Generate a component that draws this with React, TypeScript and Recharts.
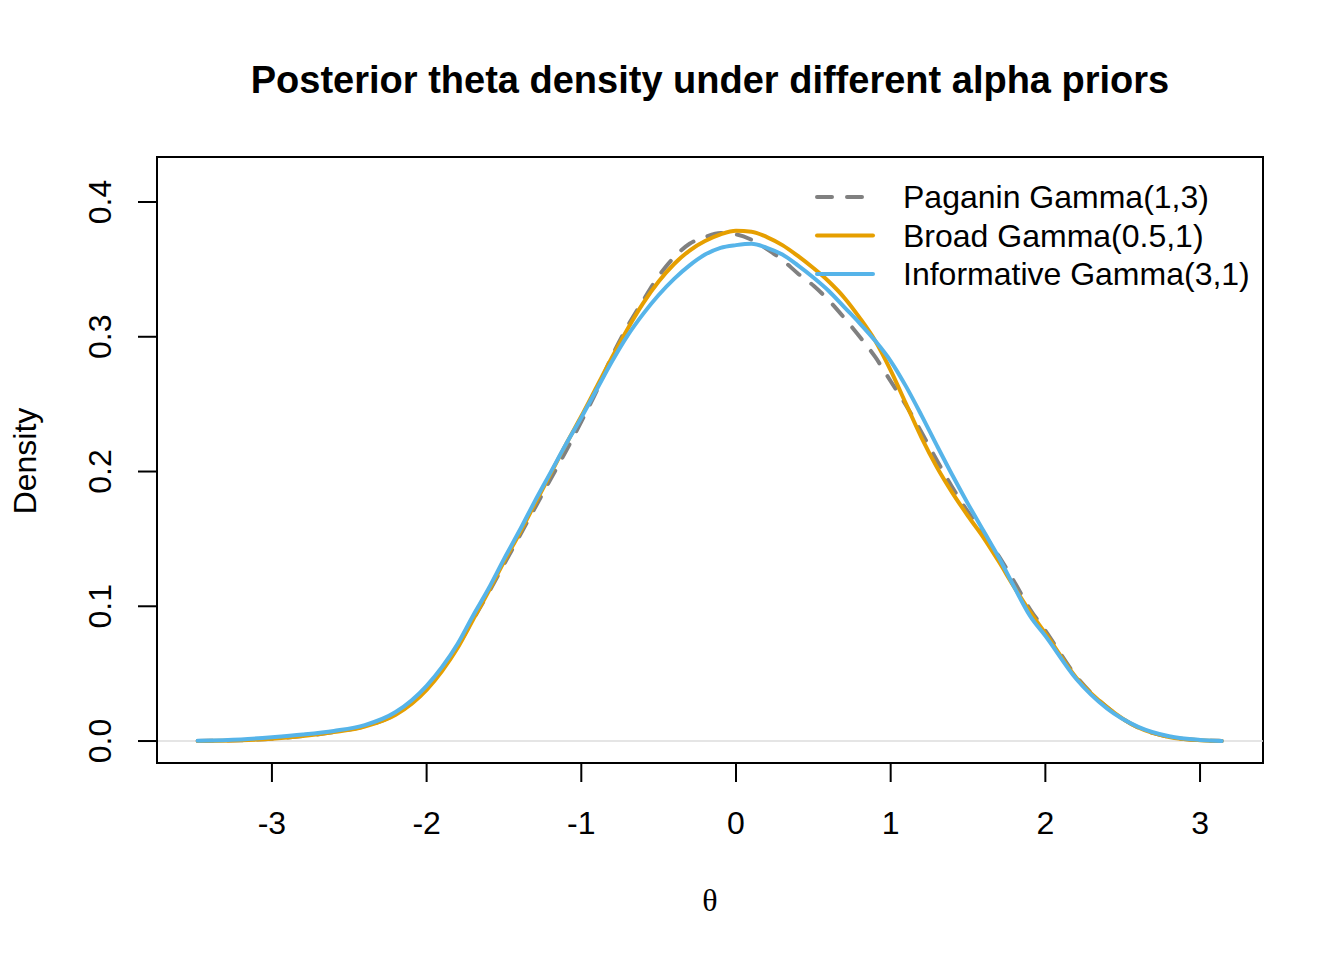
import { LineChart, Line, XAxis, YAxis, ReferenceLine, ReferenceArea, Legend } from 'recharts'

// theta grid (density estimates)
const THETA = [
  -3.48, -3.2, -3.0, -2.8, -2.6, -2.4, -2.2,
  -2.0, -1.9, -1.8, -1.7, -1.6, -1.5, -1.4, -1.3, -1.2, -1.1,
  -1.0, -0.9, -0.8, -0.7, -0.6, -0.5, -0.4, -0.3, -0.2, -0.1,
  0.0, 0.1, 0.2, 0.3, 0.4, 0.5, 0.6, 0.7, 0.8, 0.9,
  1.0, 1.1, 1.2, 1.3, 1.4, 1.5, 1.6, 1.7, 1.8, 1.9, 2.0,
  2.2, 2.4, 2.6, 2.8, 3.0, 3.14,
]

const PAGANIN = [
  0.0001, 0.0006, 0.0017, 0.0037, 0.0066, 0.011, 0.02,
  0.039, 0.053, 0.07, 0.09, 0.11, 0.131, 0.152, 0.173, 0.194, 0.215,
  0.237, 0.26, 0.286, 0.308, 0.327, 0.345, 0.359, 0.369, 0.374, 0.377,
  0.376, 0.372, 0.365, 0.357, 0.347, 0.338, 0.327, 0.314, 0.3, 0.285,
  0.267, 0.249, 0.229, 0.208, 0.188, 0.17, 0.154, 0.137, 0.118, 0.098, 0.082,
  0.048, 0.025, 0.01, 0.003, 0.0006, 0.0001,
]

const BROAD = [
  0.0001, 0.0006, 0.0017, 0.0037, 0.0066, 0.0108, 0.0195,
  0.038, 0.052, 0.069, 0.09, 0.111, 0.133, 0.154, 0.176, 0.198, 0.22,
  0.241, 0.263, 0.285, 0.306, 0.325, 0.341, 0.354, 0.364, 0.371, 0.376,
  0.3787, 0.378, 0.374, 0.368, 0.36, 0.351, 0.341, 0.329, 0.314, 0.297,
  0.275, 0.25, 0.225, 0.203, 0.184, 0.167, 0.151, 0.133, 0.114, 0.096, 0.08,
  0.047, 0.025, 0.01, 0.003, 0.0006, 0.0001,
]

const INFORMATIVE = [
  0.0002, 0.0012, 0.0028, 0.0048, 0.0075, 0.0118, 0.0215,
  0.041, 0.055, 0.072, 0.093, 0.113, 0.135, 0.156, 0.178, 0.199, 0.22,
  0.24, 0.261, 0.282, 0.301, 0.317, 0.331, 0.343, 0.353, 0.361, 0.366,
  0.368, 0.369, 0.366, 0.361, 0.353, 0.344, 0.334, 0.322, 0.31, 0.297,
  0.282, 0.263, 0.2415, 0.219, 0.197, 0.176, 0.156, 0.136, 0.114, 0.093, 0.078,
  0.046, 0.024, 0.0105, 0.0035, 0.0008, 0.0001,
]

const X_TICKS = [-3, -2, -1, 0, 1, 2, 3]
const Y_TICKS = [0, 0.1, 0.2, 0.3, 0.4]

const SERIES = [
  { key: 'paganin', name: 'Paganin Gamma(1,3)', color: '#808080', dash: '15 15' },
  { key: 'broad', name: 'Broad Gamma(0.5,1)', color: '#E69F00', dash: undefined },
  { key: 'informative', name: 'Informative Gamma(3,1)', color: '#56B4E9', dash: undefined },
]

const data = THETA.map((t, i) => ({
  theta: t,
  paganin: PAGANIN[i],
  broad: BROAD[i],
  informative: INFORMATIVE[i],
}))

const X_DOMAIN = [-3.743, 3.407]
const Y_DOMAIN = [-0.0163, 0.4334]
const FONT = '"Liberation Sans", Arial, Helvetica, sans-serif'
const axisStroke = { stroke: '#000', strokeWidth: 2 }

function XTick({ x, y, payload }: any) {
  return (
    <text x={x} y={y + 39} textAnchor="middle" dominantBaseline="central" fontSize={32} fontFamily={FONT} fill="#000">
      {payload.value}
    </text>
  )
}

function YTick({ x, y, payload }: any) {
  const cx = x - 36
  return (
    <text
      x={cx}
      y={y}
      transform={`rotate(-90 ${cx} ${y})`}
      textAnchor="middle"
      dominantBaseline="central"
      fontSize={32}
      fontFamily={FONT}
      fill="#000"
    >
      {Number(payload.value).toFixed(1)}
    </text>
  )
}

function LegendBox() {
  return (
    <svg width={470} height={120}>
      {SERIES.map((s, i) => {
        const cy = 22 + i * 38.5
        return (
          <g key={s.key}>
            <line x1={7} x2={63} y1={cy} y2={cy} stroke={s.color} strokeWidth={4} strokeDasharray={s.dash} strokeLinecap="round" />
            <text x={93} y={cy} dominantBaseline="central" fontSize={32} fontFamily={FONT} fill="#000">
              {s.name}
            </text>
          </g>
        )
      })}
    </svg>
  )
}

export default function App() {
  return (
    <div style={{ position: 'absolute', left: 0, top: 0, width: 1344, height: 960, background: '#fff', fontFamily: FONT }}>
      <div style={{ position: 'absolute', left: 157, width: 1106, top: 58, textAlign: 'center', fontSize: 38, fontWeight: 'bold', lineHeight: '44px' }}>
        Posterior theta density under different alpha priors
      </div>
      <div style={{ position: 'absolute', left: 25, top: 461, transform: 'translate(-50%, -50%) rotate(-90deg)', fontSize: 32, lineHeight: 1, whiteSpace: 'nowrap' }}>
        Density
      </div>
      <div style={{ position: 'absolute', left: 710, top: 900, transform: 'translate(-50%, -50%)', fontSize: 32, lineHeight: 1, fontFamily: '"Liberation Serif", "DejaVu Serif", serif' }}>
        θ
      </div>
      <LineChart width={1344} height={960} data={data} margin={{ top: 157, right: 81, bottom: 137, left: 77 }}>
        <ReferenceLine y={0} stroke="#dcdcdc" strokeWidth={1.5} />
        <ReferenceArea
          x1={X_DOMAIN[0]}
          x2={X_DOMAIN[1]}
          y1={Y_DOMAIN[0]}
          y2={Y_DOMAIN[1]}
          fill="none"
          fillOpacity={0}
          stroke="#000"
          strokeWidth={2}
        />
        <XAxis
          dataKey="theta"
          type="number"
          domain={X_DOMAIN}
          ticks={X_TICKS}
          allowDataOverflow
          height={60}
          tickSize={19}
          tick={<XTick />}
          axisLine={axisStroke}
          tickLine={axisStroke}
        />
        <YAxis
          type="number"
          domain={Y_DOMAIN}
          ticks={Y_TICKS}
          allowDataOverflow
          width={80}
          tickSize={19}
          tick={<YTick />}
          axisLine={axisStroke}
          tickLine={axisStroke}
        />
        <Legend layout="vertical" align="center" verticalAlign="middle" content={<LegendBox />} wrapperStyle={{ top: 175, left: 810, width: 470, height: 120 }} />
        {SERIES.map((s) => (
          <Line
            key={s.key}
            dataKey={s.key}
            name={s.name}
            type="monotone"
            stroke={s.color}
            strokeWidth={4}
            strokeDasharray={s.dash}
            strokeLinecap="round"
            dot={false}
            activeDot={false}
            isAnimationActive={false}
          />
        ))}
      </LineChart>
    </div>
  )
}
